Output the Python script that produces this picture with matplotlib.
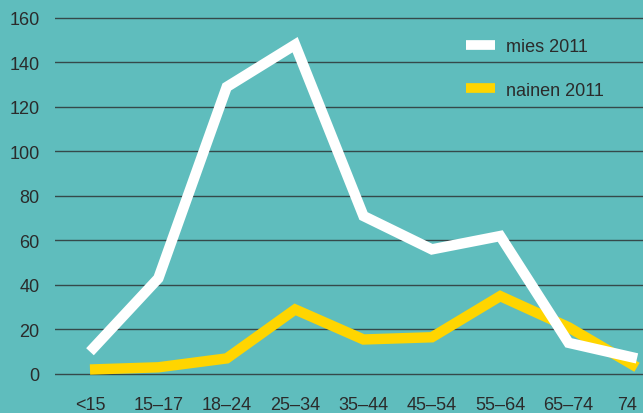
import matplotlib.pyplot as plt
from matplotlib.lines import Line2D

# age groups and counts per group
groups = ["<15", "15\u201317", "18\u201324", "25\u201334", "35\u201344",
          "45\u201354", "55\u201364", "65\u201374", "74"]
men_2011 = [10, 43, 129, 148, 71, 56, 62, 14, 7]
women_2011 = [2, 3, 7, 29, 15.5, 16.5, 35, 21, 3]
yticks = [0, 20, 40, 60, 80, 100, 120, 140, 160]

BG = "#5fbdbd"
TEXT = "#2b2b2b"

plt.rcParams["font.family"] = ["Liberation Sans", "DejaVu Sans"]

fig = plt.figure(figsize=(6.43, 4.14), dpi=100, facecolor=BG)
ax = fig.add_axes([0.0855, 0.0674, 0.9145, 0.9136])
ax.set_facecolor(BG)

x = list(range(len(groups)))
ax.plot(x, women_2011, color="#ffd500", lw=7.5, solid_capstyle="butt",
        solid_joinstyle="miter", zorder=3)
ax.plot(x, men_2011, color="white", lw=7.5, solid_capstyle="butt",
        solid_joinstyle="miter", zorder=4)

ax.set_xlim(-0.512, 8.088)
ax.set_ylim(-5, 165)
ax.set_yticks(yticks)
ax.set_xticks(x)
ax.set_xticklabels(groups)
# last label sits at the right edge, so anchor it by its right side
ax.get_xticklabels()[-1].set_horizontalalignment("right")
ax.grid(axis="y", color="#35494a", lw=1.0)
ax.set_axisbelow(True)
ax.tick_params(axis="y", length=0, pad=11, labelsize=13, colors=TEXT)
ax.tick_params(axis="x", length=0, pad=8, labelsize=13, colors=TEXT)
for s in ax.spines.values():
    s.set_visible(False)

handles = [Line2D([], [], color="white", lw=7, solid_capstyle="butt"),
           Line2D([], [], color="#ffd500", lw=7, solid_capstyle="butt")]
leg = ax.legend(handles, ["mies 2011", "nainen 2011"], loc="upper left",
                bbox_to_anchor=(0.671, 0.961), frameon=False, fontsize=13,
                handlelength=1.6, handletextpad=0.6, labelspacing=1.48)
for t in leg.get_texts():
    t.set_color(TEXT)

fig.savefig("out.png", dpi=100, facecolor=BG)
